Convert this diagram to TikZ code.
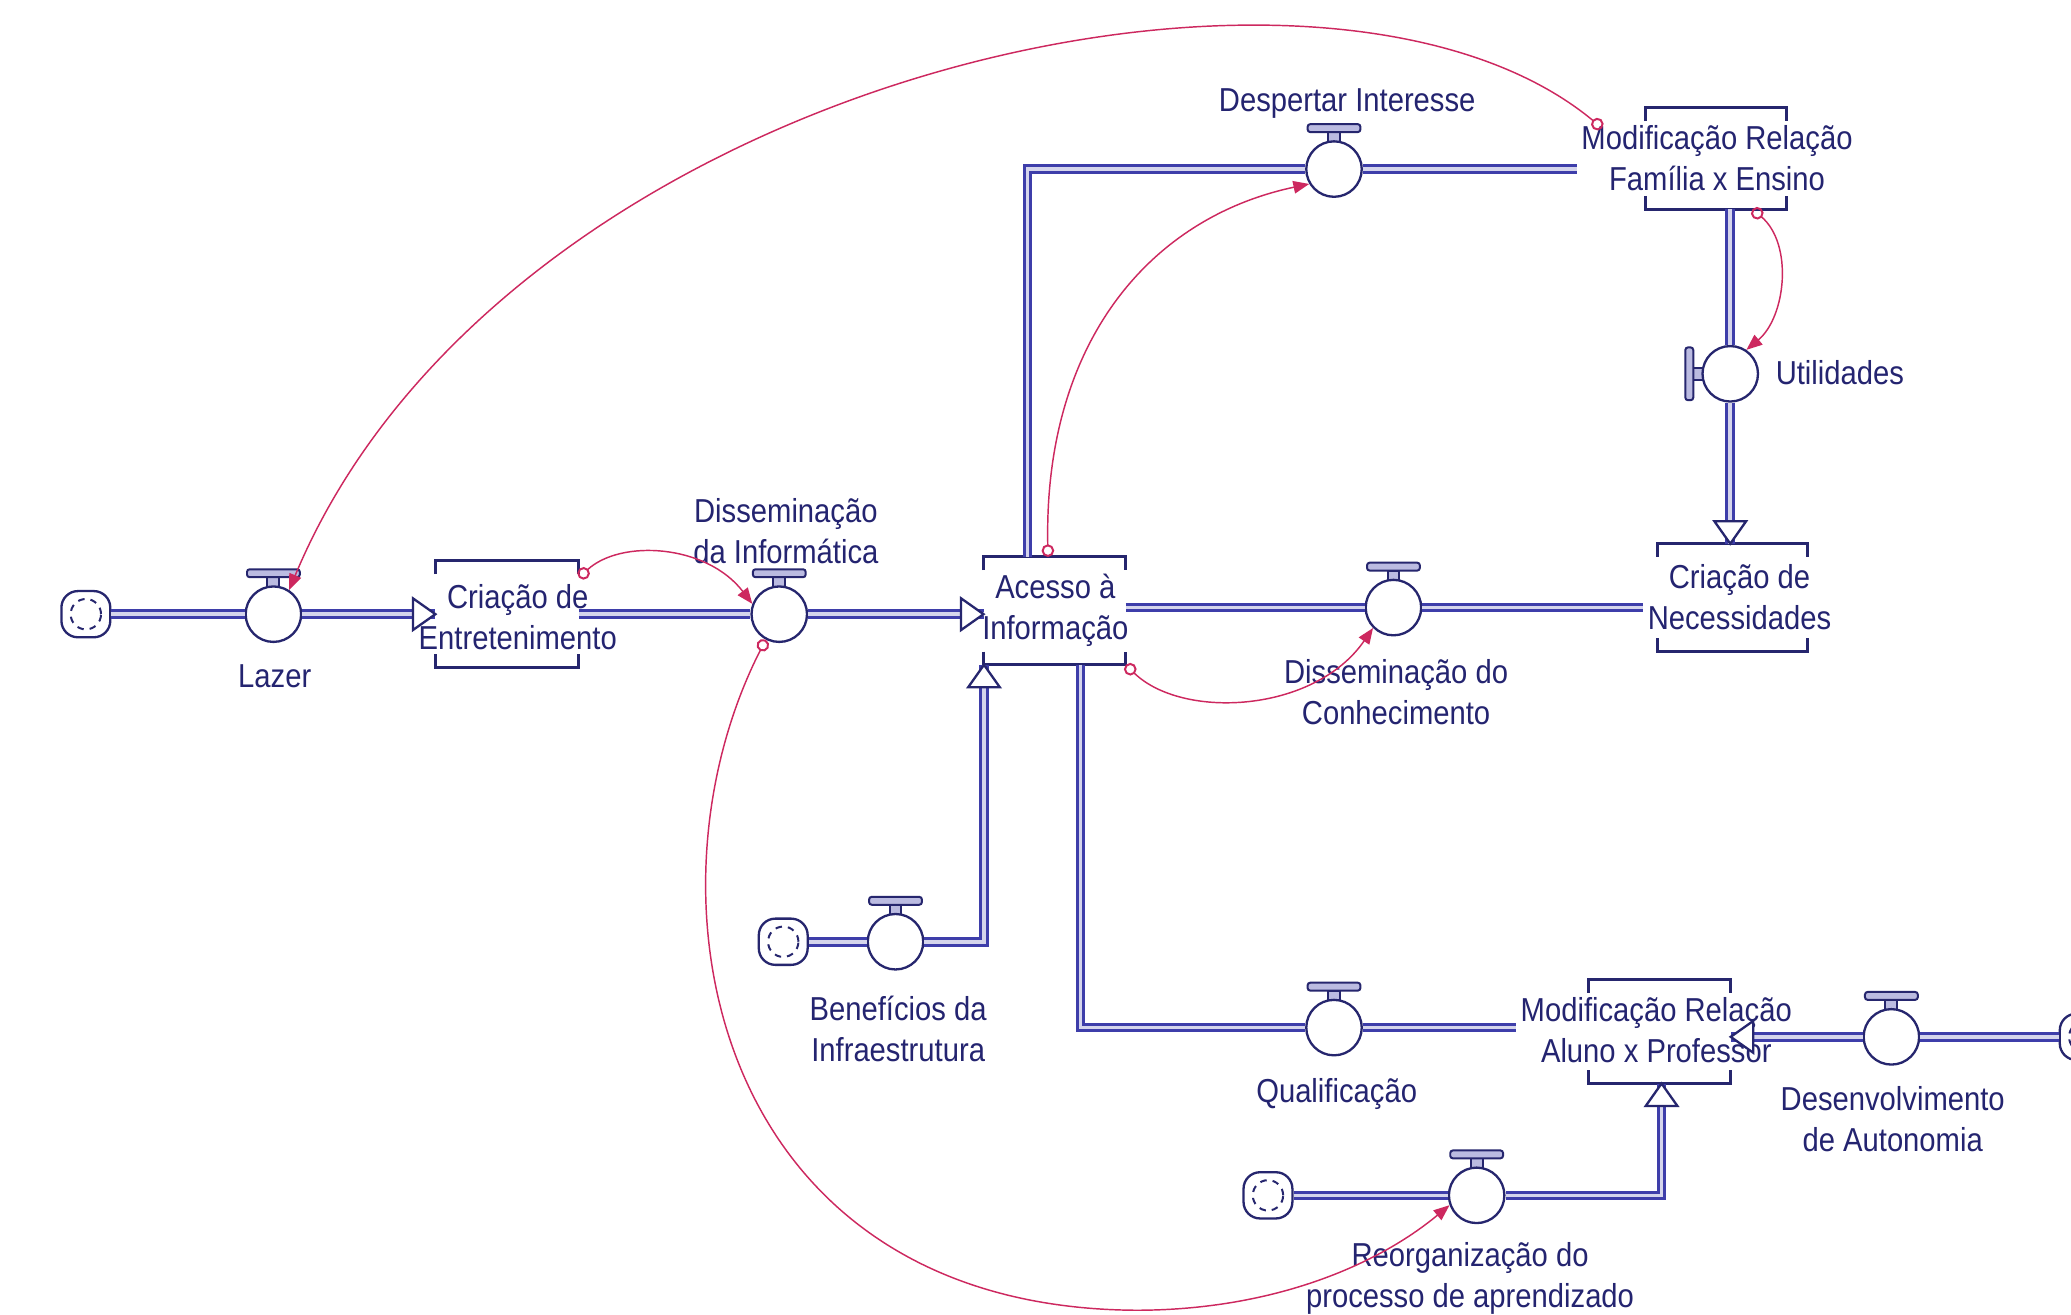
\documentclass[tikz,border=0pt]{standalone}
\usepackage{fontspec}
\setmainfont[FakeStretch=0.88]{Liberation Sans}
\usetikzlibrary{arrows.meta,calc}
\definecolor{pipec}{RGB}{62,62,170}
\definecolor{navy}{RGB}{38,38,110}
\definecolor{txtc}{RGB}{36,36,112}
\definecolor{linkc}{RGB}{205,40,95}
\tikzset{
  valve/.style={circle, draw=navy, line width=0.35mm, fill=white, minimum size=8.4mm, inner sep=0pt},
  cloud/.style={rectangle, rounded corners=2.5mm, draw=navy, line width=0.35mm, fill=white, minimum width=7.4mm, minimum height=7mm, inner sep=0pt},
  stockbox/.style={rectangle, inner sep=0pt},
  lbl/.style={text=txtc, align=center, inner sep=0.6mm},
  pipe/.style={draw=pipec, line width=0.45mm, double=pipec!22, double distance=0.55mm, line join=miter},
  fheadst/.style={draw=navy, fill=white, line width=0.35mm, line join=miter},
  handlest/.style={draw=navy, fill=pipec!35, line width=0.3mm},
  bracket/.style={draw=navy, line width=0.45mm},
  link/.style={draw=linkc, line width=0.22mm, {Circle[open,length=1.9mm,width=1.9mm,line width=0.3mm]}-{Triangle[length=2.4mm,width=1.9mm]}},
  vhandle/.pic={\draw[handlest] (-4.5,-20) rectangle (4.5,-28); \draw[handlest, rounded corners=0.4mm] (-20,-28) rectangle (20,-34);},
  cmarks/.pic={\draw[navy, line width=0.3mm, dash pattern=on 1mm off 0.9mm] (0,0) circle (2.3mm);}
}
\newcommand\mkvalve[3]{\pic at (#2,#3) {vhandle}; \node[valve] (#1) at (#2,#3) {};}
\newcommand\mkcloud[3]{\node[cloud] (#1) at (#2,#3) {}; \pic at (#2,#3) {cmarks};}
\newcommand\stockbr[1]{%
  \draw[bracket] ($(#1.north west)+(0,10)$) -- (#1.north west) -- (#1.north east) -- ($(#1.north east)+(0,10)$);
  \draw[bracket] ($(#1.south west)+(0,-10)$) -- (#1.south west) -- (#1.south east) -- ($(#1.south east)+(0,-10)$);}
\newcommand\fhead[2]{\draw[fheadst, shift={(#1)}, rotate=#2] (0,0) -- (-17,-12) -- (-17,12) -- cycle;}
\begin{document}
\begin{tikzpicture}[x=0.2mm, y=-0.2mm, font=\fontsize{14.3}{17.6}\selectfont]
\fill[white] (0,0) rectangle (1568,995);
\useasboundingbox (0,0) rectangle (1568,995);
\clip (0,0) rectangle (1568,995);

% stocks (geometry)
\node[stockbox, minimum width=21.6mm, minimum height=16mm] (sEnt) at (384,465) {};
\node[stockbox, minimum width=21.4mm, minimum height=16.2mm] (sAce) at (798.5,462.5) {};
\node[stockbox, minimum width=21.2mm, minimum height=15.2mm] (sFam) at (1299,120) {};
\node[stockbox, minimum width=22.6mm, minimum height=16.2mm] (sNec) at (1311.5,452.5) {};
\node[stockbox, minimum width=21.4mm, minimum height=15.6mm] (sAlu) at (1256.5,781) {};
\stockbr{sEnt}
\stockbr{sAce}
\stockbr{sFam}
\stockbr{sNec}
\stockbr{sAlu}

% stock texts
\node[lbl] (tEnt) at (392,467) {Criação de\\Entretenimento};
\node[lbl] (tAce) at (799,462) {Acesso à\\Informação};
\node[lbl] (tFam) at (1300,120) {Modificação Relação\\Família x Ensino};
\node[lbl] (tNec) at (1317,452) {Criação de\\Necessidades};
\node[lbl] (tAlu) at (1254,780) {Modificação Relação\\Aluno x Professor};

% valves
\mkvalve{vLazer}{207}{465}
\mkvalve{vDInf}{590}{465}
\mkvalve{vDesp}{1010}{128}
\pic[rotate=90] at (1310,283) {vhandle};
\node[valve] (vUtil) at (1310,283) {};
\mkvalve{vDCon}{1055}{460}
\mkvalve{vQual}{1010}{778}
\mkvalve{vDesAut}{1432}{785}
\mkvalve{vBen}{678}{713}
\mkvalve{vReorg}{1118}{905}

% clouds
\mkcloud{cL}{65}{465}
\mkcloud{cBen}{593}{713}
\mkcloud{cReorg}{960}{905}
\mkcloud{cR}{1578}{785}

% bend coordinates
\coordinate (bendDesp) at (778,128);
\coordinate (bendQual) at (818,778);
\coordinate (bendBen) at (745,713);
\coordinate (bendReorg) at (1258,905);
\coordinate (hEnt) at (vLazer.east -| sEnt.west);
\coordinate (hAce) at (vDInf.east -| sAce.west);
\coordinate (hNec) at (vUtil.south |- sNec.north);
\coordinate (hAlu) at (vDesAut.west -| sAlu.east);
\coordinate (hAceB) at (bendBen |- sAce.south);
\coordinate (hAluB) at (bendReorg |- sAlu.south);

% pipes
\draw[pipe] (cL.east) -- (vLazer.west);
\draw[pipe] (vLazer.east) -- (hEnt);
\draw[pipe] (sEnt.east |- vDInf.west) -- (vDInf.west);
\draw[pipe] (vDInf.east) -- (hAce);
\draw[pipe] (bendDesp |- sAce.north) -- (bendDesp) -- (vDesp.west);
\draw[pipe] (vDesp.east) -- (vDesp.east -| tFam.west);
\draw[pipe] (vUtil.north |- sFam.south) -- (vUtil.north);
\draw[pipe] (vUtil.south) -- (hNec);
\draw[pipe] (vDCon.west -| sAce.east) -- (vDCon.west);
\draw[pipe] (vDCon.east) -- (vDCon.east -| tNec.west);
\draw[pipe] (bendQual |- sAce.south) -- (bendQual) -- (vQual.west);
\draw[pipe] (vQual.east) -- (vQual.east -| tAlu.west);
\draw[pipe] (cR.west) -- (vDesAut.east);
\draw[pipe] (vDesAut.west) -- (hAlu);
\draw[pipe] (cBen.east) -- (vBen.west);
\draw[pipe] (vBen.east) -- (bendBen) -- (hAceB);
\draw[pipe] (cReorg.east) -- (vReorg.west);
\draw[pipe] (vReorg.east) -- (bendReorg) -- (hAluB);

% flow heads
\fhead{hEnt}{0}
\fhead{hAce}{0}
\fhead{hNec}{-90}
\fhead{hAlu}{180}
\fhead{hAceB}{90}
\fhead{hAluB}{90}

% labels
\node[lbl] (lLazer) at (208,512) {Lazer};
\node[lbl] (lDInf) at (595,402) {Disseminação\\da Informática};
\node[lbl] (lDesp) at (1020,78) {Despertar Interesse};
\node[lbl] (lUtil) at (1393,282) {Utilidades};
\node[lbl] (lDCon) at (1057,524) {Disseminação do\\Conhecimento};
\node[lbl] (lQual) at (1012,828) {Qualificação};
\node[lbl] (lDesAut) at (1433,847) {Desenvolvimento\\de Autonomia};
\node[lbl] (lBen) at (680,779) {Benefícios da\\Infraestrutura};
\node[lbl] (lReorg) at (1113,968) {Reorganização do\\processo de aprendizado};

% information links
\coordinate (srcFam) at (1213,97);
\draw[link] (srcFam) .. controls (1000,-80) and (380,60) .. (vLazer.57);
\draw[link] (sEnt.27) .. controls (470,408) and (535,412) .. (vDInf.159);
\draw[link] (sAce.97) .. controls (790,260) and (870,165) .. (vDesp.211);
\draw[link] (sAce.south east) .. controls (895,545) and (995,540) .. (vDCon.225);
\draw[link] (sFam.-54) .. controls (1358,185) and (1352,240) .. (vUtil.56);
\draw[link] (vDInf.242) .. controls (480,680) and (540,990) .. (860,992) .. controls (960,992) and (1040,960) .. (vReorg.200);
\end{tikzpicture}
\end{document}
